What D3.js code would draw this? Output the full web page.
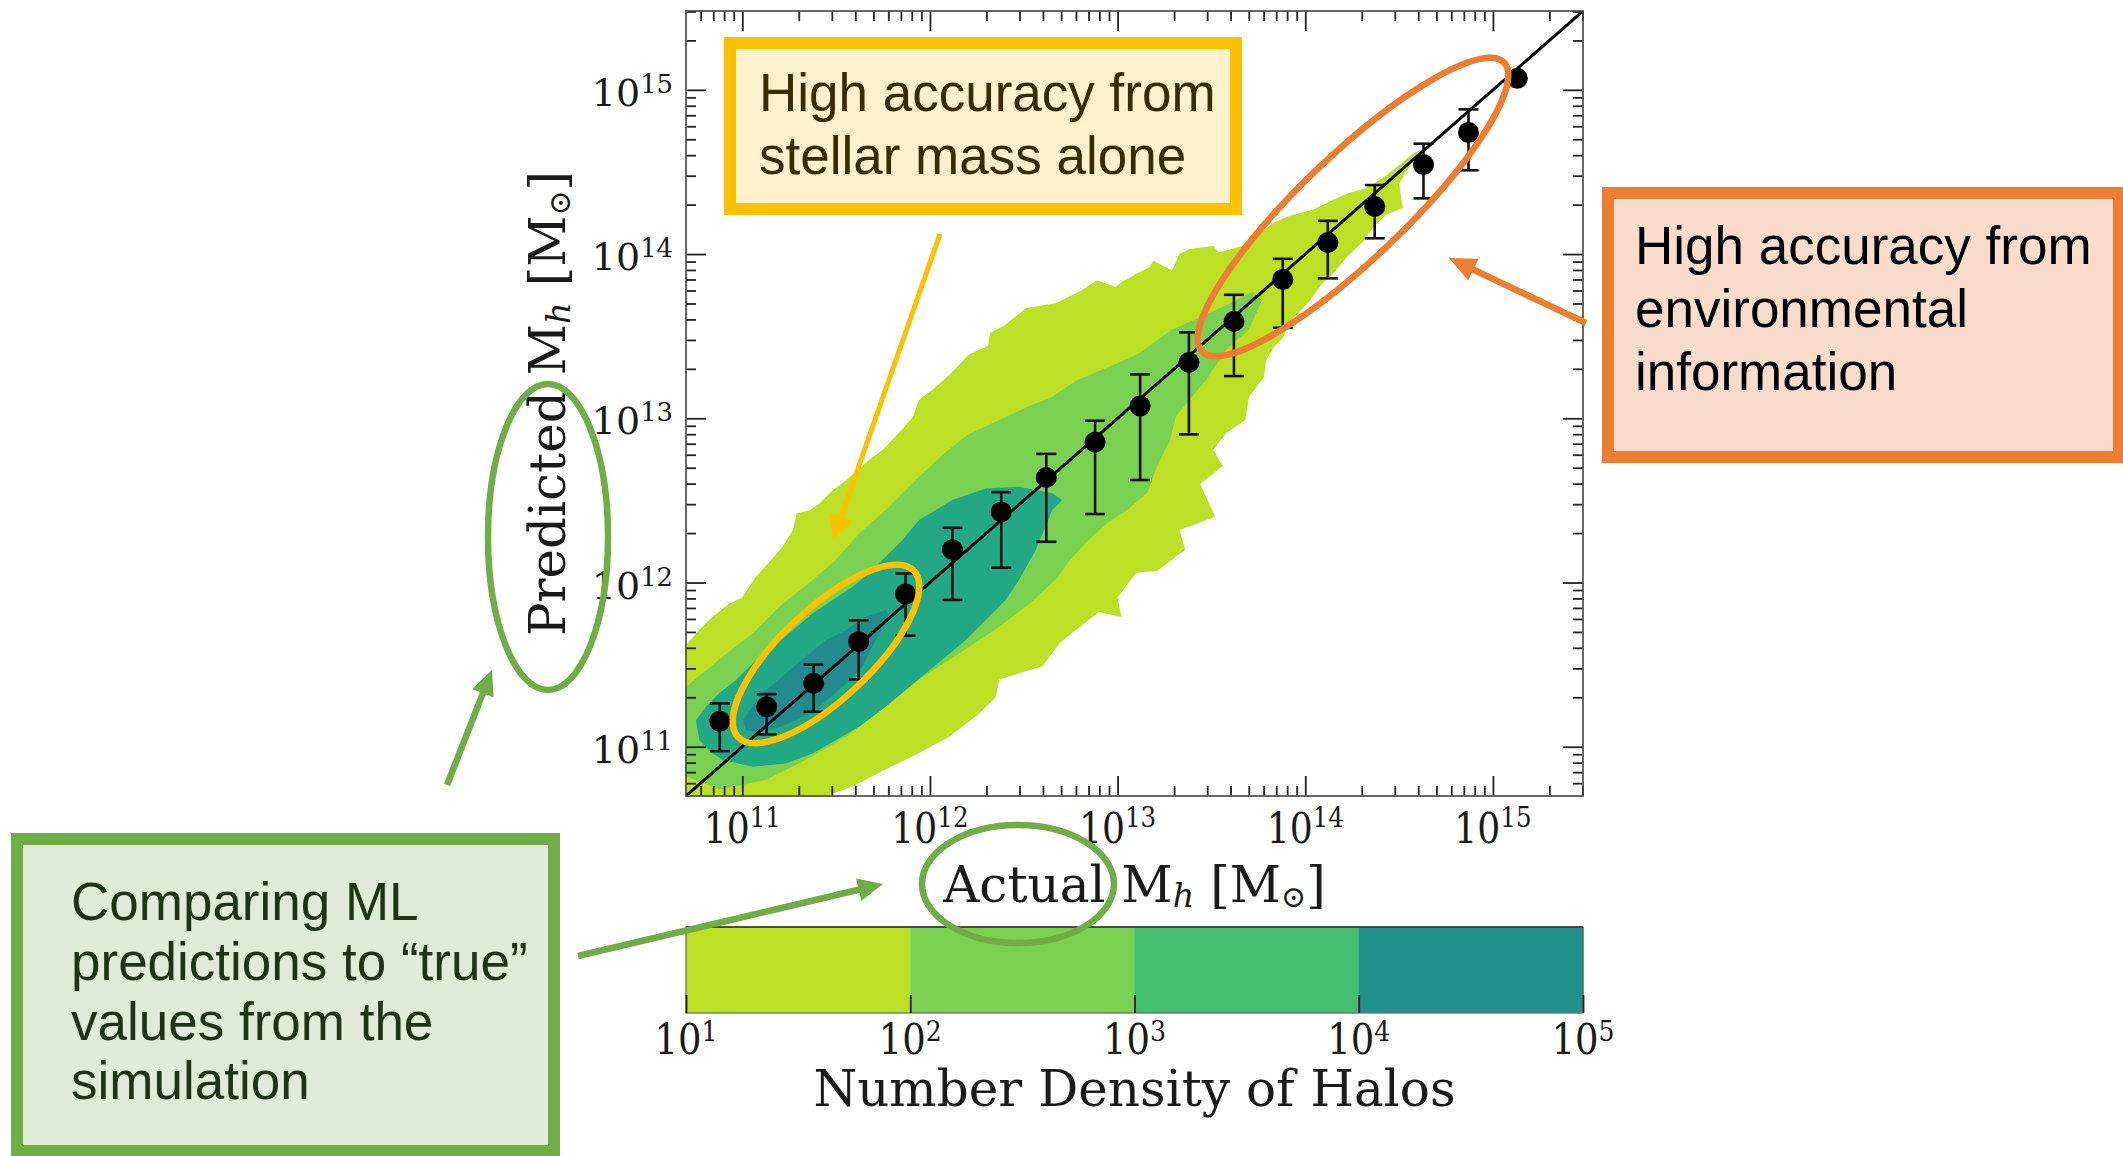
<!DOCTYPE html>
<html>
<head>
<meta charset="utf-8">
<script src="https://cdn.jsdelivr.net/npm/d3@7"></script>
<style>
  body { margin: 0; background: #fff; }
  svg { display: block; }
</style>
</head>
<body>
<svg width="2123" height="1156"></svg>
<script>
// binned medians, log10 of halo mass (actual vs predicted)
const binActual = [10.88, 11.13, 11.38, 11.62, 11.87, 12.12, 12.38, 12.62, 12.88, 13.12, 13.38, 13.62, 13.88, 14.12, 14.37, 14.63, 14.87, 15.13];
const binPred   = [11.155, 11.243, 11.386, 11.64, 11.93, 12.20, 12.43, 12.64, 12.855, 13.075, 13.34, 13.59, 13.845, 14.07, 14.29, 14.545, 14.74, 15.07];
const errHigh   = [11.264, 11.32, 11.50, 11.77, 12.055, 12.333, 12.55, 12.783, 12.985, 13.267, 13.523, 13.752, 13.971, 14.202, 14.42, 14.672, 14.881, null];
const errLow    = [10.973, 11.075, 11.213, 11.41, 11.676, 11.894, 12.09, 12.248, 12.417, 12.624, 12.902, 13.257, 13.551, 13.852, 14.096, 14.339, 14.51, null];

// filled density contours, [log actual, log predicted]
const level1 = [
  [10.60,11.55],[10.70,11.62],[10.77,11.71],[10.84,11.79],[10.93,11.87],[11.00,11.91],[11.07,12.03],[11.14,12.12],
  [11.21,12.21],[11.27,12.32],[11.29,12.42],[11.36,12.44],[11.41,12.48],[11.48,12.56],[11.55,12.62],[11.62,12.69],
  [11.68,12.75],[11.75,12.81],[11.80,12.87],[11.85,12.93],[11.91,13.01],[11.94,13.11],[12.02,13.18],[12.10,13.26],
  [12.16,13.33],[12.21,13.39],[12.31,13.44],[12.32,13.52],[12.39,13.56],[12.48,13.64],[12.51,13.67],[12.67,13.70],
  [12.74,13.74],[12.81,13.78],[12.89,13.84],[12.99,13.80],[13.01,13.82],[13.10,13.88],[13.17,13.92],[13.19,13.96],
  [13.29,13.90],[13.33,14.00],[13.38,14.03],[13.51,14.05],[13.54,14.01],[13.67,14.05],[13.74,14.11],[13.83,14.19],
  [13.91,14.23],[14.04,14.27],[14.15,14.33],[14.23,14.37],[14.32,14.40],[14.41,14.46],[14.50,14.54],[14.57,14.61],
  [14.61,14.63],[14.50,14.43],[14.52,14.28],[14.43,14.24],[14.36,14.16],[14.31,14.08],[14.22,13.98],[14.15,13.88],
  [14.09,13.82],[14.02,13.71],[13.97,13.65],[13.92,13.59],[13.88,13.49],[13.83,13.43],[13.79,13.35],[13.78,13.25],
  [13.70,13.13],[13.68,12.99],[13.58,12.91],[13.51,12.81],[13.56,12.71],[13.44,12.60],[13.52,12.40],[13.33,12.32],
  [13.36,12.20],[13.21,12.07],[13.10,12.06],[13.00,11.91],[13.02,11.79],[12.90,11.82],[12.80,11.73],[12.69,11.63],
  [12.60,11.49],[12.37,11.41],[12.35,11.30],[12.26,11.20],[12.10,11.06],[11.94,10.96],[11.76,10.86],[11.59,10.76],
  [11.45,10.70],[11.40,10.60],[10.60,10.60]
];
const level2 = [
  [10.60,11.30],[10.70,11.365],[10.895,11.548],[11.055,11.69],[11.197,11.852],[11.374,12.015],[11.498,12.137],
  [11.622,12.299],[11.764,12.441],[11.942,12.644],[12.08,12.79],[12.20,12.90],[12.37,12.99],[12.52,13.07],
  [12.65,13.13],[12.78,13.23],[12.99,13.33],[13.12,13.40],[13.29,13.54],[13.45,13.62],[13.60,13.70],[13.72,13.77],
  [13.77,13.72],[13.70,13.54],[13.58,13.42],[13.47,13.23],[13.38,13.11],[13.31,13.01],[13.28,12.87],[13.21,12.71],
  [13.16,12.55],[13.05,12.44],[12.94,12.36],[12.83,12.24],[12.74,12.13],[12.68,12.03],[12.55,11.89],[12.37,11.73],
  [12.16,11.57],[11.94,11.41],[11.76,11.24],[11.55,11.06],[11.34,10.92],[11.13,10.80],[10.88,10.74],[10.70,10.82],
  [10.60,10.85]
];
const level3 = [
  [10.895,10.919],[11.055,10.878],[11.232,10.898],[11.374,10.959],[11.498,11.04],[11.622,11.121],[11.764,11.243],
  [11.871,11.345],[11.977,11.446],[12.084,11.548],[12.19,11.649],[12.297,11.771],[12.403,11.893],[12.474,12.015],
  [12.563,12.197],[12.652,12.441],[12.705,12.502],[12.652,12.543],[12.474,12.583],[12.297,12.573],[12.119,12.502],
  [11.942,12.38],[11.853,12.258],[11.764,12.157],[11.694,12.076],[11.587,11.974],[11.481,11.893],[11.374,11.812],
  [11.268,11.71],[11.161,11.609],[11.055,11.507],[10.966,11.406],[10.877,11.325],[10.806,11.243],[10.753,11.162],
  [10.771,11.04],[10.842,10.959]
];
const level4 = [
  [11.002,11.162],[11.108,11.325],[11.232,11.446],[11.339,11.548],[11.445,11.649],[11.552,11.71],[11.658,11.791],
  [11.764,11.832],[11.782,11.802],[11.711,11.649],[11.64,11.487],[11.534,11.365],[11.409,11.243],[11.285,11.162],
  [11.179,11.111],[11.09,11.091],[11.019,11.101]
];
const levelColors = ["#bddf26", "#7ad151", "#22a884", "#228c8d"];

const axisExps = [11, 12, 13, 14, 15];
const cbarExps = [1, 2, 3, 4, 5];
const cbarColors = ["#bddf26", "#7ad151", "#44bf70", "#21918c"];

const svg = d3.select("svg");
const L = 686, R = 1583, T = 11, B = 796;

const x = d3.scaleLog().domain([10 ** 10.7, 10 ** 15.48]).range([L, R]);
const y = d3.scaleLog().domain([10 ** 10.7, 10 ** 15.48]).range([B, T]);
const px = d => x(10 ** d[0]);
const py = d => y(10 ** d[1]);

svg.append("defs").append("clipPath").attr("id", "plotclip")
  .append("rect").attr("x", L).attr("y", T).attr("width", R - L).attr("height", B - T);

const plot = svg.append("g").attr("clip-path", "url(#plotclip)");
const shape = d3.line().x(px).y(py);

[level1, level2, level3, level4].forEach((poly, i) => {
  plot.append("path").attr("d", shape(poly) + "Z").attr("fill", levelColors[i]);
});

// one-to-one line
plot.append("line")
  .attr("x1", x.range()[0]).attr("y1", y(x.domain()[0]))
  .attr("x2", x.range()[1]).attr("y2", y(x.domain()[1]))
  .attr("stroke", "#000").attr("stroke-width", 3);

const pts = binActual.map((a, i) => ({ a, p: binPred[i], hi: errHigh[i], lo: errLow[i] }));

const bars = plot.append("g").attr("stroke", "#111").attr("stroke-width", 2.6);
pts.filter(d => d.hi != null).forEach(d => {
  const cx = x(10 ** d.a);
  bars.append("line").attr("x1", cx).attr("x2", cx).attr("y1", y(10 ** d.hi)).attr("y2", y(10 ** d.lo));
  bars.append("line").attr("x1", cx - 10).attr("x2", cx + 10).attr("y1", y(10 ** d.hi)).attr("y2", y(10 ** d.hi));
  bars.append("line").attr("x1", cx - 10).attr("x2", cx + 10).attr("y1", y(10 ** d.lo)).attr("y2", y(10 ** d.lo));
});

plot.append("g").selectAll("circle").data(pts).enter().append("circle")
  .attr("cx", d => x(10 ** d.a)).attr("cy", d => y(10 ** d.p))
  .attr("r", 10.5).attr("fill", "#000");

// frame and ticks
const allTicks = x.ticks();
const isMajor = t => Math.abs(Math.log10(t) - Math.round(Math.log10(t))) < 1e-6;
const minor = allTicks.filter(t => !isMajor(t));
const major = allTicks.filter(isMajor);

function tickGroup(axis, tx, ty, size, vals) {
  const g = svg.append("g").attr("transform", `translate(${tx},${ty})`)
    .call(axis.tickValues(vals).tickSize(size).tickSizeOuter(0).tickFormat(""));
  g.select(".domain").remove();
  g.selectAll("line").attr("stroke", "#222").attr("stroke-width", 1.8);
}
tickGroup(d3.axisBottom(x), 0, B, -10, minor);
tickGroup(d3.axisBottom(x), 0, B, -20, major);
tickGroup(d3.axisTop(x), 0, T, -10, minor);
tickGroup(d3.axisTop(x), 0, T, -20, major);
tickGroup(d3.axisLeft(y), L, 0, -10, minor);
tickGroup(d3.axisLeft(y), L, 0, -20, major);
tickGroup(d3.axisRight(y), R, 0, -10, minor);
tickGroup(d3.axisRight(y), R, 0, -20, major);

svg.append("rect").attr("x", L).attr("y", T).attr("width", R - L).attr("height", B - T)
  .attr("fill", "none").attr("stroke", "#444").attr("stroke-width", 1.6);

const serif = "'DejaVu Serif', serif";

// "10^n" label; sx squeezes the glyphs horizontally like the source figure
function powerLabel(g, px0, py0, exp, anchor, rise, size, sx) {
  const t = g.append("g").attr("transform", `translate(${px0},${py0}) scale(${sx},1)`)
    .append("text").attr("text-anchor", anchor).attr("font-family", serif)
    .attr("font-size", size).attr("fill", "#1a1a1a");
  t.append("tspan").text("10");
  t.append("tspan").attr("font-size", size * 0.68).attr("dy", -rise).text(exp);
}

const labels = svg.append("g");
axisExps.forEach(e => powerLabel(labels, x(10 ** e), 843, e, "middle", 16, 42, 0.86));
axisExps.forEach(e => powerLabel(labels, 673, y(10 ** e) + 16, e, "end", 13, 38, 1));

function massLabel(g, text, attrs) {
  const t = g.append("text").attr("font-family", serif).attr("font-size", 50)
    .attr("fill", "#1a1a1a").attr("text-anchor", "middle");
  Object.entries(attrs).forEach(([k, v]) => t.attr(k, v));
  t.append("tspan").text(text + " M");
  t.append("tspan").attr("font-style", "italic").attr("font-size", 34).attr("dy", 5).text("h");
  t.append("tspan").attr("dy", -5).text(" [M");
  t.append("tspan").attr("font-size", 30).attr("dy", 5).text("\u2299");
  t.append("tspan").attr("dy", -5).text("]");
}
massLabel(labels, "Actual", { x: (L + R) / 2, y: 902 });
massLabel(labels, "Predicted", { transform: `translate(565,${(T + B) / 2}) rotate(-90)` });

// colorbar
const cb = d3.scaleLog().domain([10 ** cbarExps[0], 10 ** cbarExps[cbarExps.length - 1]]).range([L, R]);
const cbTop = 927, cbBot = 1013;
cbarColors.forEach((c, i) => {
  svg.append("rect")
    .attr("x", cb(10 ** cbarExps[i])).attr("y", cbTop)
    .attr("width", cb(10 ** cbarExps[i + 1]) - cb(10 ** cbarExps[i]) + 0.5)
    .attr("height", cbBot - cbTop).attr("fill", c);
});
svg.append("rect").attr("x", L).attr("y", cbTop).attr("width", R - L).attr("height", cbBot - cbTop)
  .attr("fill", "none").attr("stroke", "#666").attr("stroke-width", 1.2);
svg.append("line").attr("x1", L).attr("x2", R).attr("y1", cbTop).attr("y2", cbTop)
  .attr("stroke", "#333").attr("stroke-width", 1.5);
tickGroup(d3.axisBottom(cb), 0, cbBot, -18, cbarExps.map(e => 10 ** e));
cbarExps.forEach(e => powerLabel(labels, cb(10 ** e), 1054, e, "middle", 13, 42, 0.88));
labels.append("text").attr("x", (L + R) / 2).attr("y", 1106).attr("text-anchor", "middle")
  .attr("font-family", serif).attr("font-size", 50).attr("fill", "#1a1a1a")
  .text("Number Density of Halos");

// annotations
const sans = "'Liberation Sans', Arial, Helvetica, sans-serif";
const notes = svg.append("g");

function box(x0, y0, x1, y1, fill, stroke) {
  notes.append("rect").attr("x", x0 + 6).attr("y", y0 + 6)
    .attr("width", x1 - x0 - 12).attr("height", y1 - y0 - 12)
    .attr("fill", fill).attr("stroke", stroke).attr("stroke-width", 12);
}
function lines(x0, ys, texts, color) {
  texts.forEach((s, i) => notes.append("text").attr("x", x0).attr("y", ys[i])
    .attr("font-family", sans).attr("font-size", 53).attr("fill", color).text(s));
}
function arrow(x1, y1, x2, y2, color, w, hl, hw) {
  const dx = x2 - x1, dy = y2 - y1, len = Math.hypot(dx, dy);
  const ux = dx / len, uy = dy / len;
  const bx = x2 - ux * hl, by = y2 - uy * hl;
  notes.append("line").attr("x1", x1).attr("y1", y1).attr("x2", bx + ux * 2).attr("y2", by + uy * 2)
    .attr("stroke", color).attr("stroke-width", w);
  notes.append("path")
    .attr("d", `M${x2},${y2}L${bx - uy * hw / 2},${by + ux * hw / 2}L${bx + uy * hw / 2},${by - ux * hw / 2}Z`)
    .attr("fill", color);
}
function ring(cx, cy, rx, ry, angle, color) {
  notes.append("ellipse").attr("cx", cx).attr("cy", cy).attr("rx", rx).attr("ry", ry)
    .attr("transform", `rotate(${angle} ${cx} ${cy})`)
    .attr("fill", "none").attr("stroke", color).attr("stroke-width", 6.5);
}

// stellar mass note
box(724, 37, 1242, 215, "#fff2cc", "#ffc000");
lines(759, [111, 174], ["High accuracy from", "stellar mass alone"], "#3a2c00");
arrow(940, 234, 833, 540, "#ffc000", 5, 24, 24);
ring(826, 654, 121, 45, -43.3, "#ffc000");

// environment note
box(1602, 187, 2125, 463, "#f9dccb", "#ed7d31");
lines(1635, [264, 327, 390], ["High accuracy from", "environmental", "information"], "#000");
arrow(1586, 323, 1449, 258, "#ed7d31", 6.5, 27, 24);
ring(1353, 207, 209, 52, -43.7, "#ed7d31");

// comparison note
box(11, 833, 560, 1157, "#dfecd8", "#70ad47");
lines(71, [920, 980, 1040, 1099], ["Comparing ML", "predictions to \u201ctrue\u201d", "values from the", "simulation"], "#1f3316");
arrow(447, 785, 492, 670, "#70ad47", 6.5, 25, 23);
arrow(578, 956, 883, 884, "#70ad47", 6.5, 25, 23);
ring(548, 537, 60, 153, 0, "#70ad47");
ring(1018, 884, 96, 59, 0, "#70ad47");
</script>
</body>
</html>
